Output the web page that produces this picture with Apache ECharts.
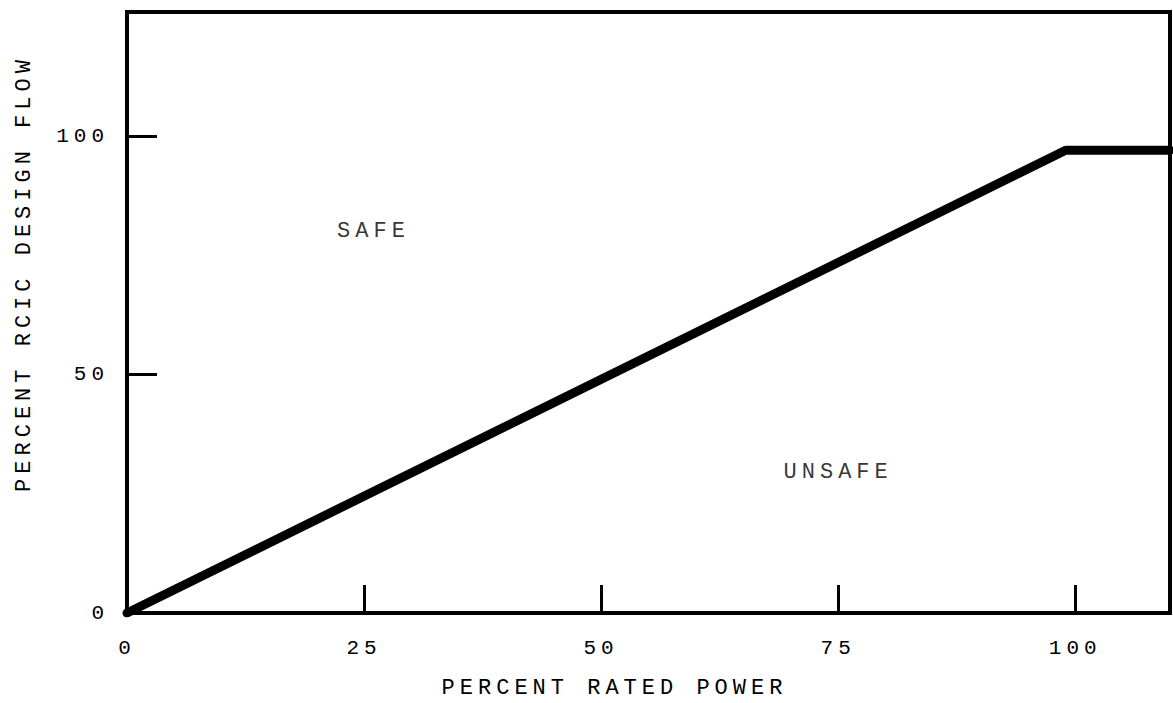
<!DOCTYPE html>
<html>
<head>
<meta charset="utf-8">
<script src="https://cdn.jsdelivr.net/npm/echarts@6/dist/echarts.min.js"></script>
<style>
  html, body { margin: 0; padding: 0; background: #fff; }
  #chart { width: 1173px; height: 703px; letter-spacing: 5px; }
</style>
</head>
<body>
<div id="chart"></div>
<script>
// Data
const flowCurve = [[0, 0], [99, 97], [110, 97]]; // [percent rated power, percent RCIC design flow]
const xTicks = [0, 25, 50, 75, 100];
const yTicks = [0, 50, 100];
const regionLabels = [
  { name: 'SAFE', value: [26, 80] },
  { name: 'UNSAFE', value: [75, 29.5] }
];
const xTitle = 'PERCENT RATED POWER';
const yTitle = 'PERCENT RCIC DESIGN FLOW';

const FONT = '"Liberation Mono", "DejaVu Sans Mono", monospace';
const chart = echarts.init(document.getElementById('chart'), null, { renderer: 'svg' });
chart.setOption({
  animation: false,
  backgroundColor: '#fff',
  grid: {
    left: 127, right: 3, top: 12, bottom: 90,
    outerBoundsMode: 'none',
    show: true, borderColor: '#000', borderWidth: 4, backgroundColor: 'transparent'
  },
  xAxis: {
    type: 'value', min: 0, max: 110, interval: 25,
    name: xTitle, nameLocation: 'middle', nameGap: 64,
    nameTextStyle: { fontFamily: FONT, fontSize: 22, color: '#000', padding: [0, 68, 0, 0] },
    axisLine: { lineStyle: { color: '#000', width: 4 } },
    axisTick: { inside: true, length: 28, lineStyle: { color: '#000', width: 3 } },
    axisLabel: {
      fontFamily: FONT, fontSize: 21, color: '#000', margin: 25,
      showMaxLabel: false,
      formatter: v => xTicks.includes(v) ? String(v) : ''
    },
    splitLine: { show: false }
  },
  yAxis: {
    type: 'value', min: 0, max: 126, interval: 50,
    name: yTitle, nameLocation: 'middle', nameGap: 92, nameRotate: 90,
    nameTextStyle: { fontFamily: FONT, fontSize: 22, color: '#000', padding: [0, 0, 0, 78] },
    axisLine: { lineStyle: { color: '#000', width: 4 } },
    axisTick: { inside: true, length: 30, lineStyle: { color: '#000', width: 3 } },
    axisLabel: {
      fontFamily: FONT, fontSize: 21, color: '#000', margin: 18,
      showMaxLabel: false,
      formatter: v => yTicks.includes(v) ? String(v) : ''
    },
    splitLine: { show: false }
  },
  series: [
    {
      type: 'line', data: flowCurve, symbol: 'none', clip: true,
      lineStyle: { color: '#000', width: 9, join: 'round', cap: 'round' }
    },
    {
      type: 'scatter', data: regionLabels, symbolSize: 0, silent: true,
      label: {
        show: true, position: 'inside', formatter: p => p.name,
        fontFamily: FONT, fontSize: 22, color: '#000'
      }
    }
  ]
});
</script>
</body>
</html>
